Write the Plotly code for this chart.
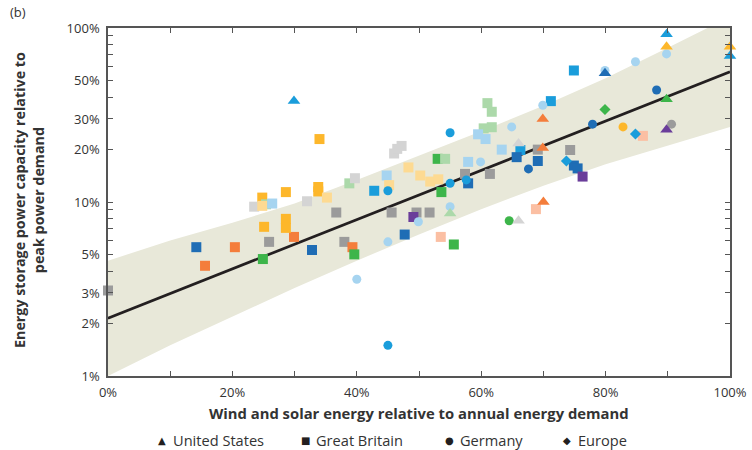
import plotly.graph_objects as go

# ---------------- data ----------------
# study colour code per point: A..L (mapped to colours below)
us_x = [29.9, 89.8, 89.8, 100.0, 100.0, 79.9, 89.8, 69.9, 66.0, 69.9, 89.8, 70.0, 55.0, 66.0]
us_y = [38, 92, 78, 78, 69, 55, 39, 30, 21.7, 20.4, 26, 10, 8.6, 7.8]
us_src = ["B", "B", "F", "F", "B", "A", "H", "D", "K", "D", "L", "D", "I", "K"]

gb_x = [0.0, 14.2, 15.6, 20.4, 24.9, 25.9, 29.9, 32.8, 25.1, 28.6, 28.6, 24.8, 28.6, 33.8,
        33.8, 34.0, 23.5, 25.4, 24.8, 26.4, 32.0, 35.2, 36.7, 38.8, 39.7, 61.0, 61.7, 61.7,
        60.4, 59.5, 60.7, 66.3, 65.7, 46.0, 46.5, 47.2, 53.0, 54.2, 57.9, 48.3, 50.2, 51.8,
        53.1, 44.8, 45.2, 42.8, 57.4, 61.4, 57.9, 53.6, 45.6, 49.6, 51.7, 49.1, 47.7, 53.5,
        55.6, 38.0, 39.3, 39.6, 68.8, 74.9, 71.2, 86.0, 63.3, 69.1, 74.3, 69.1, 74.9, 75.5,
        76.3]
gb_y = [3.1, 5.5, 4.3, 5.5, 4.7, 5.9, 6.3, 5.3, 7.2, 8.0, 7.1, 10.6, 11.4, 12.2,
        11.5, 23, 9.4, 9.7, 9.5, 9.8, 10.1, 10.6, 8.7, 12.8, 13.7, 37, 33, 26.9,
        26.5, 24.5, 23, 19.9, 18.1, 19, 20.2, 21, 17.7, 17.7, 17, 15.8, 14.2, 13.1,
        13.5, 14.2, 12.5, 11.6, 14.5, 14.5, 12.8, 11.4, 8.7, 8.7, 8.7, 8.2, 6.5, 6.3,
        5.7, 5.9, 5.5, 5.0, 9.1, 57, 38, 24, 20, 20, 19.9, 17.2, 16.2, 15.6,
        14]
gb_src = ["J", "A", "D", "D", "H", "J", "D", "A", "F", "F", "F", "F", "F", "F",
          "F", "F", "K", "I", "G", "C", "K", "G", "J", "I", "K", "I", "I", "I",
          "I", "C", "C", "B", "A", "K", "K", "K", "H", "I", "C", "G", "G", "G",
          "G", "C", "G", "B", "J", "J", "A", "H", "J", "J", "J", "L", "A", "E",
          "H", "J", "D", "H", "E", "B", "B", "E", "C", "J", "J", "A", "A", "A",
          "L"]

de_x = [55.0, 64.9, 67.6, 59.9, 45.0, 55.0, 57.6, 49.9, 55.0, 64.5, 45.0, 40.0, 45.0,
        89.8, 84.8, 79.9, 88.2, 69.9, 77.9, 82.8, 90.6]
de_y = [25, 27, 15.5, 17, 11.6, 12.8, 13.4, 7.7, 9.4, 7.8, 5.9, 3.6, 1.5,
        71, 64, 57, 44, 36, 28, 27, 28]
de_src = ["B", "C", "A", "C", "B", "B", "B", "C", "C", "H", "C", "C", "B",
          "C", "C", "C", "A", "C", "A", "F", "J"]

eu_x = [79.9, 84.8, 73.7]
eu_y = [34, 24.6, 17.2]
eu_src = ["H", "B", "B"]

# regression line and prediction band
fit_x = [0, 100]
fit_y = [2.15, 56]
band_x = [0, 10, 20, 30, 40, 50, 60, 70, 80, 90, 100]
band_upper = [4.6, 6.0, 7.6, 9.8, 13.4, 18.5, 25.5, 35.7, 51.5, 77, 116]
band_lower = [1.0, 1.5, 2.2, 3.2, 4.6, 6.5, 9.1, 12.4, 16.5, 21.2, 27]

x_ticks = [0, 10, 20, 30, 40, 50, 60, 70, 80, 90, 100]
x_ticktext = ["0%", "", "20%", "", "40%", "", "60%", "", "80%", "", "100%"]
y_ticks = [1, 2, 3, 4, 5, 6, 7, 8, 9, 10, 20, 30, 40, 50, 60, 70, 80, 90, 100]
y_labels = {1: "1%", 2: "2%", 3: "3%", 5: "5%", 10: "10%", 20: "20%", 30: "30%", 50: "50%", 100: "100%"}

regions = ["United States", "Great Britain", "Germany", "Europe"]
region_glyphs = ["▲", "■", "●", "◆"]

# ---------------- styles ----------------
SRC_COLORS = {
    "A": "#1f6db5",  # dark blue
    "B": "#1a9ddb",  # medium blue
    "C": "#a6d4f0",  # light blue
    "D": "#f47d3b",  # orange
    "E": "#fbbfa3",  # light salmon
    "F": "#fdb72b",  # yellow
    "G": "#fdda92",  # light yellow
    "H": "#3db54a",  # green
    "I": "#acd9aa",  # light green
    "J": "#9b9b9b",  # dark grey
    "K": "#d4d4d4",  # light grey
    "L": "#6a3d9a",  # purple
}
SYMBOLS = {"United States": "triangle-up", "Great Britain": "square", "Germany": "circle", "Europe": "diamond"}
SIZES = {"United States": 11, "Great Britain": 10, "Germany": 9, "Europe": 8.5}
FONT = "Open Sans"
TXT = "#333333"
# legend layout (pixel positions of glyphs)
LEG_PX = [162, 305, 449, 567]
PL, PR, PT, PB = 108, 730, 28, 376


def px_x(p):
    return (p - PL) / (PR - PL)


def px_y(p):
    return (PB - p) / (PB - PT)


fig = go.Figure()

# band
fig.add_trace(go.Scatter(
    x=band_x + band_x[::-1], y=band_upper + band_lower[::-1],
    mode="lines", fill="toself", fillcolor="#e8e8d9", line=dict(width=0),
    hoverinfo="skip", showlegend=False))

# fit line
fig.add_trace(go.Scatter(x=fit_x, y=fit_y, mode="lines",
                         line=dict(color="#231f20", width=2.7), showlegend=False))

data = {
    "Great Britain": (gb_x, gb_y, gb_src),
    "Germany": (de_x, de_y, de_src),
    "United States": (us_x, us_y, us_src),
    "Europe": (eu_x, eu_y, eu_src),
}
for name, (xs, ys, src) in data.items():
    fig.add_trace(go.Scatter(
        x=xs, y=ys, mode="markers", name=name, showlegend=False, cliponaxis=False,
        marker=dict(symbol=SYMBOLS[name], size=SIZES[name],
                    color=[SRC_COLORS[s] for s in src], line=dict(width=0))))

annotations = [
    dict(text="(b)", xref="paper", yref="paper", x=px_x(8), y=px_y(12),
         xanchor="left", yanchor="middle", showarrow=False,
         font=dict(size=13, color=TXT)),
    dict(text="<b>Energy storage power capacity relative to<br>peak power demand</b>",
         xref="paper", yref="paper", x=px_x(29), y=px_y(200), textangle=-90,
         xanchor="center", yanchor="middle", showarrow=False,
         font=dict(size=14.3, color=TXT)),
    dict(text="<b>Wind and solar energy relative to annual energy demand</b>",
         xref="paper", yref="paper", x=px_x(419), y=px_y(413),
         xanchor="center", yanchor="middle", showarrow=False,
         font=dict(size=14.8, color=TXT)),
]
# legend: glyph + label
for g, name, p in zip(region_glyphs, regions, LEG_PX):
    annotations.append(dict(text=g, xref="paper", yref="paper", x=px_x(p), y=px_y(440),
                            xanchor="center", yanchor="middle", showarrow=False,
                            font=dict(family="DejaVu Sans", size=10, color="#231f20")))
    annotations.append(dict(text=name, xref="paper", yref="paper", x=px_x(p + 9), y=px_y(440),
                            xanchor="left", yanchor="middle", showarrow=False,
                            font=dict(size=14.6, color=TXT)))

fig.update_layout(
    width=752, height=450,
    margin=dict(l=PL, r=752 - PR, t=PT, b=450 - PB, autoexpand=False),
    paper_bgcolor="white", plot_bgcolor="white",
    font=dict(family=FONT, size=12, color=TXT),
    showlegend=False,
    xaxis=dict(range=[0, 100], tickvals=x_ticks, ticktext=x_ticktext,
               ticks="inside", ticklen=5, tickwidth=1.2, tickcolor="#555",
               showline=True, linecolor="#555", linewidth=1.5, mirror="ticks",
               showgrid=False, zeroline=False, ticklabelstandoff=4,
               tickfont=dict(size=13, color=TXT)),
    yaxis=dict(type="log", range=[0, 2], tickvals=y_ticks,
               ticktext=[y_labels.get(v, "") for v in y_ticks],
               ticks="inside", ticklen=5, tickwidth=1.2, tickcolor="#555",
               showline=True, linecolor="#555", linewidth=1.5, mirror="ticks",
               showgrid=False, zeroline=False, ticklabelstandoff=4,
               tickfont=dict(size=13, color=TXT)),
    annotations=annotations,
)

fig.write_html("out.html")
